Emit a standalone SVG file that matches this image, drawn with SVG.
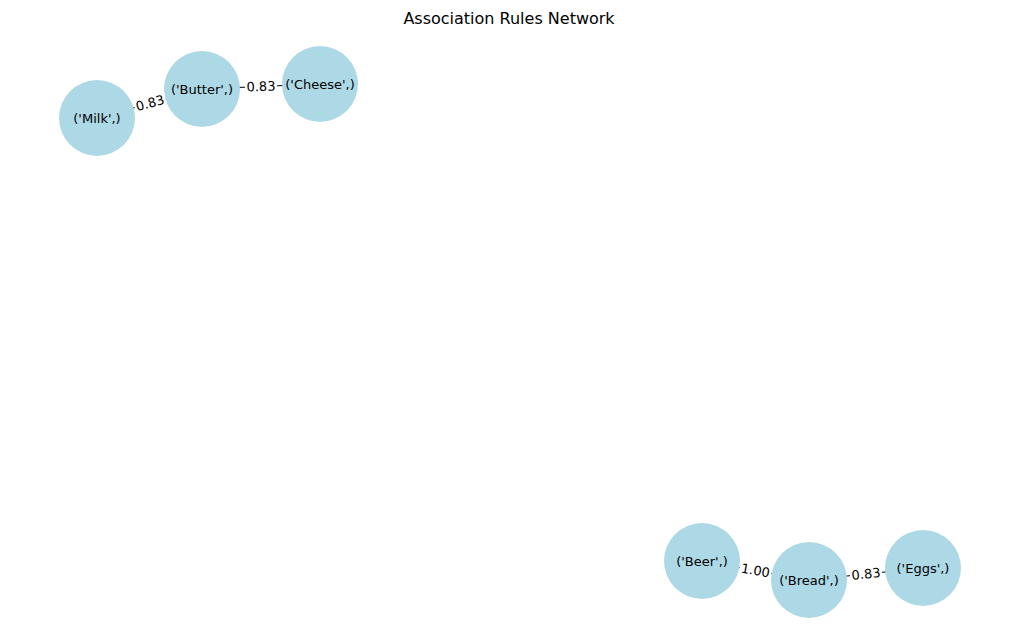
<svg xmlns="http://www.w3.org/2000/svg" width="1019" height="642" viewBox="0 0 1019 642">
<style>
text{font-family:"DejaVu Sans",sans-serif;font-size:13px;fill:#000;text-anchor:middle;dominant-baseline:central}
.n{fill:#add8e6}
.e{stroke:#000;stroke-width:1}
.lb{fill:#fff}
</style>
<rect width="1019" height="642" fill="#fff"/>
<text x="509" y="18" style="font-size:16px">Association Rules Network</text>
<g id="connectors">
<line class="e" x1="97" y1="118" x2="202" y2="89"/>
<line class="e" x1="202" y1="89" x2="320" y2="84"/>
<line class="e" x1="702" y1="561" x2="809" y2="580"/>
<line class="e" x1="809" y1="580" x2="923" y2="568"/>
</g>
<g id="node-milk"><circle class="n" cx="97" cy="118" r="38"/><text x="97" y="118">('Milk',)</text></g>
<g id="node-butter"><circle class="n" cx="202" cy="89" r="38"/><text x="202" y="89">('Butter',)</text></g>
<g id="node-cheese"><circle class="n" cx="320" cy="84" r="38"/><text x="320" y="84">('Cheese',)</text></g>
<g id="node-beer"><circle class="n" cx="702" cy="561" r="38"/><text x="702" y="561">('Beer',)</text></g>
<g id="node-bread"><circle class="n" cx="809" cy="580" r="38"/><text x="809" y="580">('Bread',)</text></g>
<g id="node-eggs"><circle class="n" cx="923" cy="568" r="38"/><text x="923" y="568">('Eggs',)</text></g>
<g id="edge-labels">
<g transform="translate(150,103) rotate(-15.4)"><rect class="lb" x="-16" y="-8" width="32" height="16"/><text>0.83</text></g>
<g transform="translate(261,86.5) rotate(-2.4)"><rect class="lb" x="-16" y="-8" width="32" height="16"/><text>0.83</text></g>
<g transform="translate(755.5,570.5) rotate(10)"><rect class="lb" x="-16" y="-8" width="32" height="16"/><text>1.00</text></g>
<g transform="translate(866,574) rotate(-6)"><rect class="lb" x="-16" y="-8" width="32" height="16"/><text>0.83</text></g>
</g>
</svg>
